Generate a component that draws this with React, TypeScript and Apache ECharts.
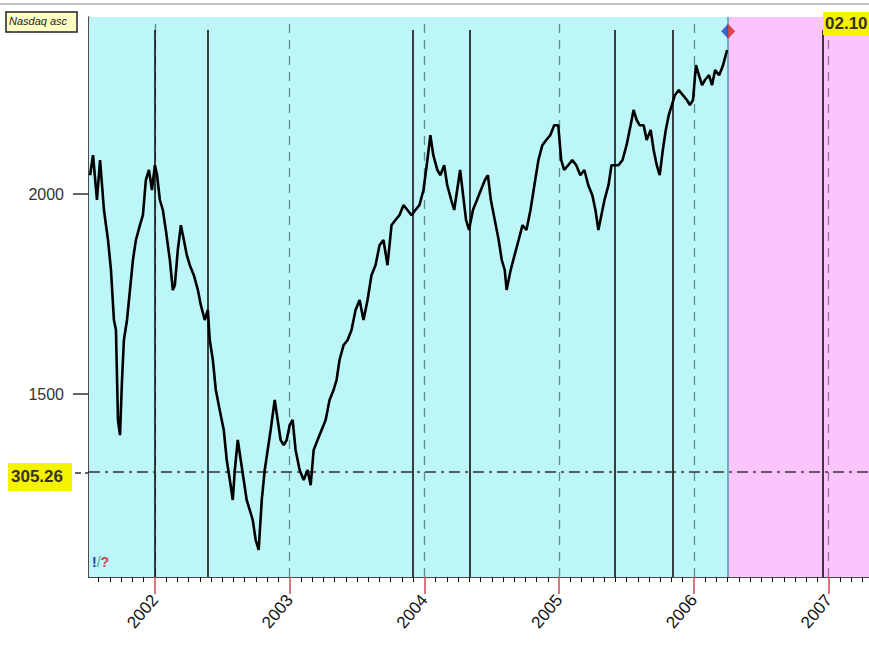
import React, { useEffect, useRef } from "react";
import * as echarts from "echarts";

// decimal years of each sample
const dates = [
  2001.519, 2001.541, 2001.57, 2001.593, 2001.622, 2001.652, 2001.674, 2001.696, 2001.711, 2001.726,
  2001.741, 2001.756, 2001.77, 2001.793, 2001.815, 2001.837, 2001.859, 2001.889, 2001.911, 2001.933,
  2001.956, 2001.978, 2002.0, 2002.015, 2002.037, 2002.059, 2002.081, 2002.111, 2002.133, 2002.148,
  2002.17, 2002.193, 2002.215, 2002.237, 2002.259, 2002.289, 2002.319, 2002.341, 2002.37, 2002.393,
  2002.407, 2002.43, 2002.452, 2002.481, 2002.511, 2002.533, 2002.556, 2002.578, 2002.593, 2002.615,
  2002.637, 2002.659, 2002.681, 2002.704, 2002.726, 2002.748, 2002.77, 2002.793, 2002.815, 2002.837,
  2002.859, 2002.889, 2002.911, 2002.933, 2002.956, 2002.978, 2003.0, 2003.022, 2003.044, 2003.074,
  2003.104, 2003.133, 2003.156, 2003.178, 2003.207, 2003.237, 2003.267, 2003.296, 2003.326, 2003.348,
  2003.37, 2003.4, 2003.43, 2003.459, 2003.489, 2003.519, 2003.548, 2003.578, 2003.607, 2003.637,
  2003.667, 2003.696, 2003.726, 2003.756, 2003.785, 2003.815, 2003.844, 2003.874, 2003.904, 2003.933,
  2003.963, 2003.993, 2004.022, 2004.044, 2004.066, 2004.096, 2004.118, 2004.147, 2004.169, 2004.199,
  2004.221, 2004.243, 2004.265, 2004.287, 2004.309, 2004.331, 2004.36, 2004.39, 2004.419, 2004.449,
  2004.471, 2004.493, 2004.522, 2004.551, 2004.574, 2004.596, 2004.61, 2004.64, 2004.669, 2004.699,
  2004.728, 2004.757, 2004.787, 2004.816, 2004.846, 2004.875, 2004.904, 2004.934, 2004.963, 2004.993,
  2005.015, 2005.037, 2005.067, 2005.097, 2005.127, 2005.157, 2005.187, 2005.216, 2005.246, 2005.269,
  2005.291, 2005.313, 2005.336, 2005.366, 2005.388, 2005.41, 2005.44, 2005.47, 2005.5, 2005.53,
  2005.552, 2005.575, 2005.597, 2005.627, 2005.649, 2005.679, 2005.701, 2005.724, 2005.746, 2005.769,
  2005.791, 2005.813, 2005.836, 2005.858, 2005.888, 2005.918, 2005.948, 2005.97, 2005.993, 2006.015,
  2006.037, 2006.06, 2006.082, 2006.112, 2006.134, 2006.157, 2006.187, 2006.216, 2006.246,
];

// Nasdaq values
const closes = [
  2047, 2097, 1985, 2085, 1960, 1885, 1810, 1685, 1660, 1435,
  1397, 1535, 1635, 1685, 1760, 1835, 1885, 1922, 1947, 2035,
  2060, 2010, 2072, 2050, 1985, 1960, 1910, 1835, 1760, 1772,
  1860, 1922, 1885, 1847, 1822, 1797, 1760, 1722, 1685, 1710,
  1635, 1585, 1510, 1460, 1410, 1335, 1285, 1235, 1310, 1385,
  1335, 1285, 1235, 1210, 1185, 1135, 1110, 1235, 1310, 1360,
  1410, 1485, 1435, 1385, 1372, 1385, 1422, 1435, 1360, 1310,
  1285, 1310, 1272, 1360, 1385, 1410, 1435, 1485, 1510, 1535,
  1585, 1622, 1635, 1660, 1710, 1735, 1685, 1735, 1797, 1822,
  1872, 1885, 1822, 1922, 1935, 1947, 1972, 1960, 1947, 1960,
  1972, 2010, 2085, 2147, 2097, 2060, 2047, 2072, 2022, 1985,
  1960, 2010, 2060, 1997, 1935, 1910, 1960, 1985, 2010, 2035,
  2047, 1985, 1935, 1885, 1835, 1810, 1760, 1810, 1847, 1885,
  1922, 1910, 1960, 2022, 2085, 2122, 2135, 2147, 2172, 2172,
  2085, 2060, 2072, 2085, 2072, 2047, 2060, 2022, 1997, 1960,
  1910, 1947, 1985, 2022, 2072, 2072, 2072, 2085, 2122, 2172,
  2210, 2185, 2172, 2172, 2135, 2160, 2110, 2072, 2047, 2110,
  2160, 2197, 2222, 2247, 2260, 2247, 2235, 2222, 2235, 2322,
  2297, 2272, 2285, 2297, 2272, 2310, 2297, 2322, 2360,
];

const yearTicks = [2002, 2003, 2004, 2005, 2006, 2007];
const yLabels = [1500, 2000];
const cycleMarks = [2002.0, 2002.393, 2003.911, 2004.338, 2005.41, 2005.843, 2006.955];
const refLevel = 1305.26;
const refLabel = "305.26";
const lastBar = 2006.254;
const markerValue = 2407;
const cornerLabel = "02.10";
const titleLabel = "Nasdaq asc";

const xMin = 2001.511;
const xMax = 2007.299;
const yMin = 1042.5;
const yMax = 2442.5;

function seg(x1: number, y1: number, x2: number, y2: number, lineStyle: any) {
  return [
    { coord: [x1, y1], lineStyle },
    { coord: [x2, y2] },
  ];
}

export default function App() {
  const ref = useRef<HTMLDivElement>(null);
  useEffect(() => {
    if (!ref.current) return;
    const chart = echarts.init(ref.current, undefined, { renderer: "svg" });
    const monthTicks: number[] = [];
    for (let y = 2001; y <= 2007; y++) {
      for (let m = 1; m < 12; m++) {
        const v = y + m / 12;
        if (v >= xMin && v <= xMax) monthTicks.push(v);
      }
    }
    const data = dates.map((d, i) => [d, closes[i]]);
    const yearLines = yearTicks.map((yr) =>
      seg(yr, yMin, yr, yMax, {
        color: yr > lastBar ? "#9a6e9a" : "#5e8e94",
        type: [9, 7],
        width: 1.3,
      })
    );
    const cycleLines = cycleMarks.map((c) =>
      seg(c, yMin, c, 2410, { color: "#111", type: "solid", width: 1.6 })
    );
    const font = "Liberation Sans, Arial, sans-serif";
    chart.setOption({
      animation: false,
      backgroundColor: "#ffffff",
      grid: { left: 89, right: 0, top: 17, bottom: 77, containLabel: false },
      xAxis: [
        {
          type: "value",
          min: xMin,
          max: xMax,
          splitLine: { show: false },
          axisLine: { show: true, lineStyle: { color: "#111", width: 1.5 } },
          axisTick: {
            show: true,
            customValues: monthTicks,
            length: 5,
            lineStyle: { color: "#111", width: 1 },
          },
          axisLabel: {
            customValues: yearTicks,
            rotate: 50,
            margin: 20,
            fontSize: 17,
            color: "#111",
            fontFamily: font,
            formatter: (v: number) => String(Math.round(v)),
          },
        },
        {
          type: "value",
          min: xMin,
          max: xMax,
          position: "bottom",
          splitLine: { show: false },
          axisLine: { show: false },
          axisTick: {
            show: true,
            customValues: yearTicks,
            length: 17,
            lineStyle: { color: "#c84a55", width: 1.5 },
          },
          axisLabel: { show: false },
        },
      ],
      yAxis: {
        type: "value",
        min: yMin,
        max: yMax,
        splitLine: { show: false },
        axisLine: { show: true, lineStyle: { color: "#111", width: 1.5 } },
        axisTick: {
          show: true,
          customValues: yLabels,
          length: 16,
          lineStyle: { color: "#333", width: 1.5 },
        },
        axisLabel: {
          customValues: yLabels,
          margin: 25,
          fontSize: 16,
          color: "#333",
          fontFamily: font,
          formatter: (v: number) => String(Math.round(v)),
        },
      },
      series: [
        {
          type: "line",
          data,
          showSymbol: false,
          symbol: "none",
          lineStyle: { color: "#000", width: 2.6 },
          z: 5,
          markArea: {
            silent: true,
            data: [
              [{ xAxis: xMin, itemStyle: { color: "#bcf6f8" } }, { xAxis: lastBar }],
              [{ xAxis: lastBar, itemStyle: { color: "#fcc4fc" } }, { xAxis: xMax }],
            ],
          },
          markLine: {
            silent: true,
            symbol: ["none", "none"],
            label: { show: false },
            data: [
              ...yearLines,
              ...cycleLines,
              seg(lastBar, yMin, lastBar, yMax, { color: "#4a9ca4", type: "solid", width: 1.5 }),
              seg(xMin, refLevel, xMax, refLevel, { color: "#333", type: [11, 5, 3, 5], width: 1.5 }),
            ],
          },
        },
        {
          type: "scatter",
          data: [[lastBar, markerValue]],
          symbol: "diamond",
          symbolSize: [14, 15],
          z: 10,
          itemStyle: {
            color: new echarts.graphic.LinearGradient(0, 0, 1, 0, [
              { offset: 0, color: "#1f3fc8" },
              { offset: 0.5, color: "#1f3fc8" },
              { offset: 0.5, color: "#d02828" },
              { offset: 1, color: "#d02828" },
            ]),
          },
        },
      ],
      graphic: [
        {
          type: "line",
          z: 100,
          shape: { x1: 0, y1: 4, x2: 869, y2: 4 },
          style: { stroke: "#c4c4c4", lineWidth: 2 },
        },
        {
          type: "line",
          z: 100,
          shape: { x1: 75, y1: 473, x2: 89, y2: 473 },
          style: { stroke: "#333", lineWidth: 1.5, lineDash: [6, 4] },
        },
        {
          type: "rect",
          z: 100,
          shape: { x: 6, y: 12, width: 71, height: 20 },
          style: { fill: "#ffffc4", stroke: "#222", lineWidth: 1.5 },
        },
        {
          type: "text",
          z: 101,
          x: 9,
          y: 15,
          style: {
            text: titleLabel,
            fontSize: 11,
            fontStyle: "italic",
            fill: "#222",
            fontFamily: font,
          },
        },
        {
          type: "rect",
          z: 100,
          shape: { x: 8, y: 463, width: 64, height: 28 },
          style: { fill: "#f4f400" },
        },
        {
          type: "text",
          z: 101,
          x: 11,
          y: 468,
          style: {
            text: refLabel,
            fontSize: 17,
            fontWeight: "bold",
            fill: "#3a3020",
            fontFamily: font,
          },
        },
        {
          type: "rect",
          z: 100,
          shape: { x: 823, y: 12, width: 46, height: 23 },
          style: { fill: "#f4f400" },
        },
        {
          type: "text",
          z: 101,
          x: 825,
          y: 15,
          style: {
            text: cornerLabel,
            fontSize: 17,
            fontWeight: "bold",
            fill: "#3a3020",
            fontFamily: font,
          },
        },
        {
          type: "text",
          x: 92,
          y: 555,
          z: 101,
          style: {
            text: "{a|!}{b|/}{c|?}",
            fontFamily: font,
            rich: {
              a: { fontSize: 14, fontWeight: "bold", fill: "#1a3fb0" },
              b: { fontSize: 14, fill: "#4aa0a0" },
              c: { fontSize: 14, fontWeight: "bold", fill: "#d04040" },
            },
          },
        },
      ],
    });
    return () => chart.dispose();
  }, []);
  return (
    <div
      ref={ref}
      style={{ position: "fixed", left: 0, top: 0, width: 869, height: 654 }}
    />
  );
}
